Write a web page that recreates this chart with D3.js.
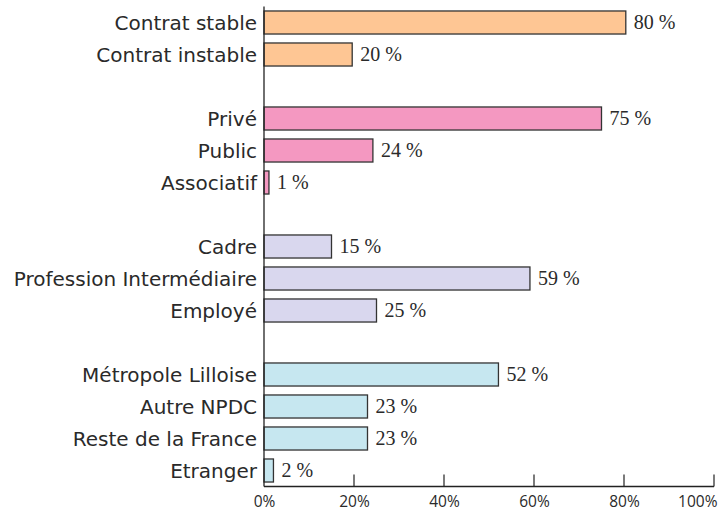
<!DOCTYPE html>
<html>
<head>
<meta charset="utf-8">
<script src="https://cdn.jsdelivr.net/npm/d3@7"></script>
<style>
  body { margin: 0; background: #fff; }
  .cat { font-family: "DejaVu Sans", sans-serif; font-size: 20px; fill: #2a2a2a; }
  .val { font-family: "Liberation Serif", serif; font-size: 20px; fill: #2a2a2a; }
  .tick text { font-family: "Open Sans", sans-serif; font-size: 15.5px; fill: #2a2a2a; }
</style>
</head>
<body>
<svg width="721" height="511"></svg>
<script>

// categories, top to bottom (blank entries are the gaps between groups)
var categories = ["Contrat stable", "Contrat instable", "",
                  "Privé", "Public", "Associatif", "",
                  "Cadre", "Profession Intermédiaire", "Employé", "",
                  "Métropole Lilloise", "Autre NPDC", "Reste de la France", "Etranger"];

// values in percent
var values = [80.4, 19.6, null,
              75.0, 24.2, 1.1, null,
              15.0, 59.1, 25.0, null,
              52.1, 23.0, 23.0, 2.1];

// group of each row (for the colour)
var groups = [0, 0, null, 1, 1, 1, null, 2, 2, 2, null, 3, 3, 3, 3];
var groupColors = ["#fec694", "#f498c1", "#d9d7ee", "#c6e7f0"];

var tickValues = [0, 20, 40, 60, 80, 100];

var svg = d3.select("svg");
var x0 = 264, x1 = 714;
var y0 = 6.5, y1 = 486.5;

// scales
var x_scale = d3.scaleLinear()
    .domain([0, 100])
    .range([x0, x1]);

var y_scale = d3.scaleBand()
    .domain(d3.range(categories.length))
    .range([y0, y1])
    .paddingInner(0.28)
    .paddingOuter(0.14);

var rows = categories.map(function(c, i) {
  return {cat: c, val: values[i], grp: groups[i], i: i};
}).filter(function(d) { return d.cat !== ""; });

// bars
svg.selectAll("rect.bar")
  .data(rows)
  .enter()
  .append("rect")
    .attr("class", "bar")
    .attr("x", x_scale(0))
    .attr("y", function(d) { return y_scale(d.i); })
    .attr("width", function(d) { return x_scale(d.val) - x_scale(0); })
    .attr("height", y_scale.bandwidth())
    .attr("fill", function(d) { return groupColors[d.grp]; })
    .attr("stroke", "#333")
    .attr("stroke-width", 1.3);

// category labels
svg.selectAll("text.cat")
  .data(rows)
  .enter()
  .append("text")
    .attr("class", "cat")
    .attr("x", x0 - 7)
    .attr("y", function(d) { return y_scale(d.i) + y_scale.bandwidth() / 2; })
    .attr("dy", "0.36em")
    .attr("text-anchor", "end")
    .text(function(d) { return d.cat; });

// value labels
svg.selectAll("text.val")
  .data(rows)
  .enter()
  .append("text")
    .attr("class", "val")
    .attr("x", function(d) { return x_scale(d.val) + 8; })
    .attr("y", function(d) { return y_scale(d.i) + y_scale.bandwidth() / 2; })
    .attr("dy", "0.33em")
    .text(function(d) { return Math.round(d.val) + " %"; });

// x axis
var xAxis = d3.axisBottom(x_scale)
    .tickValues(tickValues)
    .tickSize(0)
    .tickFormat(function(d) { return d + "%"; });

var gx = svg.append("g")
  .attr("transform", "translate(0," + y1 + ")")
  .call(xAxis);
gx.select(".domain").remove();
gx.selectAll(".tick text").attr("y", 20).attr("dy", 0);
gx.selectAll(".tick text")
  .filter(function(d) { return d === 100; })
  .attr("text-anchor", "end")
  .attr("x", 3);

// tick marks pointing up
svg.selectAll("line.tk")
  .data(tickValues.slice(1))
  .enter()
  .append("line")
    .attr("x1", function(d) { return x_scale(d); })
    .attr("x2", function(d) { return x_scale(d); })
    .attr("y1", y1 - 12)
    .attr("y2", y1)
    .attr("stroke", "#222")
    .attr("stroke-width", 1.2);

// axis lines
svg.append("line")
  .attr("x1", x0).attr("x2", x1)
  .attr("y1", y1).attr("y2", y1)
  .attr("stroke", "#222").attr("stroke-width", 1.3);

svg.append("line")
  .attr("x1", x0).attr("x2", x0)
  .attr("y1", y0).attr("y2", y1)
  .attr("stroke", "#222").attr("stroke-width", 1.3);

</script>
</body>
</html>
